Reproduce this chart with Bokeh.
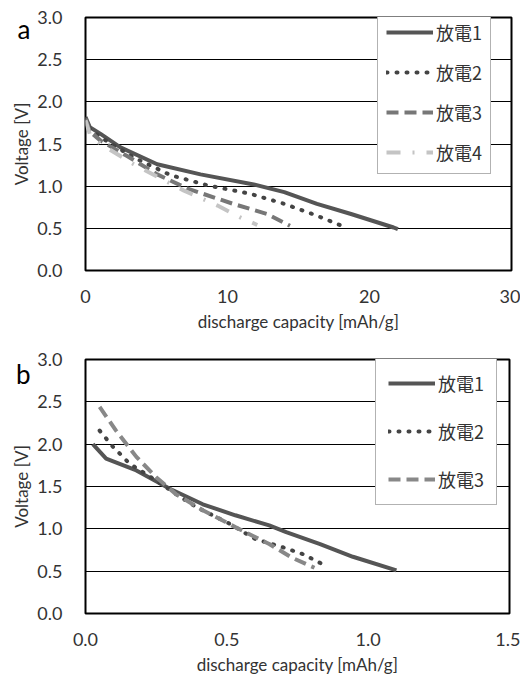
from bokeh.plotting import figure
from bokeh.layouts import column
from bokeh.models import (Legend, LegendItem, FixedTicker, Range1d, NumeralTickFormatter,
                          LinearAxis, CustomJSTickFormatter)
from bokeh.embed import file_html
from bokeh.resources import INLINE

# ---- panel a data ----
a_x1 = [0.0, 0.3, 1.06, 2.46, 5.05, 8.1, 11.85, 14.0, 16.3, 18.7, 21.7, 22.0]
a_y1 = [1.82, 1.70, 1.62, 1.46, 1.26, 1.14, 1.02, 0.93, 0.79, 0.67, 0.51, 0.49]
a_x2 = [0.0, 0.3, 1.06, 3.4, 6.0, 8.6, 11.6, 14.0, 16.3, 18.2]
a_y2 = [1.80, 1.68, 1.58, 1.34, 1.13, 1.01, 0.91, 0.79, 0.65, 0.52]
a_x3 = [0.0, 0.3, 1.06, 2.9, 5.05, 7.2, 10.4, 12.8, 14.4]
a_y3 = [1.80, 1.65, 1.54, 1.36, 1.14, 0.97, 0.79, 0.67, 0.53]
a_x4 = [0.0, 0.3, 1.06, 3.4, 6.9, 9.3, 10.9, 12.1]
a_y4 = [1.78, 1.62, 1.50, 1.26, 0.95, 0.77, 0.63, 0.54]

# ---- panel b data ----
b_x1 = [0.026, 0.073, 0.18, 0.30, 0.415, 0.53, 0.65, 0.71, 0.83, 0.946, 1.10]
b_y1 = [2.00, 1.83, 1.69, 1.47, 1.29, 1.16, 1.04, 0.96, 0.82, 0.67, 0.51]
b_x2 = [0.05, 0.097, 0.156, 0.25, 0.32, 0.39, 0.51, 0.60, 0.70, 0.77, 0.84]
b_y2 = [2.16, 1.97, 1.77, 1.57, 1.41, 1.26, 1.06, 0.88, 0.78, 0.70, 0.58]
b_x3 = [0.05, 0.108, 0.18, 0.25, 0.32, 0.415, 0.53, 0.65, 0.73, 0.81]
b_y3 = [2.44, 2.16, 1.85, 1.61, 1.41, 1.22, 1.02, 0.82, 0.66, 0.54]

labels_a = ["放電1", "放電2", "放電3", "放電4"]
labels_b = ["放電1", "放電2", "放電3"]
y_ticks = [0, 0.5, 1.0, 1.5, 2.0, 2.5, 3.0]
a_xticks = [0, 10, 20, 30]
b_xticks = [0.0, 0.5, 1.0, 1.5]
panel_tags = ["a", "b"]

TICK_FONT = "Lato"
CJK_FONT = "Noto Sans CJK JP"
TXT = "#333333"

styles_a = [
    dict(line_color="#555555", line_width=4),
    dict(line_color="#444444", line_width=4, line_dash="1 9", line_cap="round"),
    dict(line_color="#777777", line_width=4, line_dash="12 6"),
    dict(line_color="#c4c4c4", line_width=4, line_dash="14 12 2 12"),
]
styles_b = [
    dict(line_color="#555555", line_width=4),
    dict(line_color="#444444", line_width=4, line_dash="1 9", line_cap="round"),
    dict(line_color="#888888", line_width=4, line_dash="12 6"),
]


def make_panel(fw, fh, left, right, top, bottom, xmax, xticks, xfmt, xs, ys, labels,
               styles, leg_x, leg_top, leg_pad, leg_spacing, tag, tag_y):
    p = figure(frame_width=fw, frame_height=fh, output_backend="svg", toolbar_location=None,
               x_range=Range1d(0, xmax), y_range=Range1d(0, 3),
               min_border_left=left, min_border_right=right,
               min_border_top=top, min_border_bottom=bottom,
               background_fill_color="white", border_fill_color="white")
    p.outline_line_color = "black"
    p.outline_line_width = 2
    p.xgrid.visible = False
    p.ygrid.grid_line_color = "black"
    p.ygrid.grid_line_width = 1
    p.ygrid.ticker = FixedTicker(ticks=y_ticks)

    p.xaxis.ticker = FixedTicker(ticks=xticks)
    p.yaxis.ticker = FixedTicker(ticks=y_ticks)
    p.xaxis.formatter = NumeralTickFormatter(format=xfmt)
    p.yaxis.formatter = NumeralTickFormatter(format="0.0")
    for ax in (p.xaxis[0], p.yaxis[0]):
        ax.axis_line_color = None
        ax.major_tick_line_color = None
        ax.minor_tick_line_color = None
        ax.major_tick_out = 0
        ax.major_tick_in = 0
        ax.minor_tick_out = 0
        ax.minor_tick_in = 0
        ax.major_label_text_font = TICK_FONT
        ax.major_label_text_font_size = "18px"
        ax.major_label_text_color = TXT
        ax.axis_label_text_font = TICK_FONT
        ax.axis_label_text_font_size = "17px"
        ax.axis_label_text_font_style = "normal"
        ax.axis_label_text_color = TXT
    p.xaxis.axis_label = "discharge capacity [mAh/g]"
    p.yaxis.axis_label = "Voltage [V]"
    p.xaxis.major_label_standoff = 19
    p.xaxis.axis_label_standoff = 5
    p.yaxis.major_label_standoff = 23
    p.yaxis.axis_label_standoff = 2

    # panel tag ("a"/"b") drawn as the single tick label of an outer, bare axis
    tag_axis = LinearAxis(ticker=FixedTicker(ticks=[tag_y]),
                          formatter=CustomJSTickFormatter(code="return %r;" % tag),
                          axis_line_color=None, major_tick_line_color=None,
                          minor_tick_line_color=None, major_tick_out=0, major_tick_in=0,
                          minor_tick_out=0, minor_tick_in=0, major_label_standoff=-22,
                          major_label_text_font=TICK_FONT, major_label_text_font_size="26px",
                          major_label_text_color="black")
    p.add_layout(tag_axis, "left")

    items = []
    for x, y, lab, st in zip(xs, ys, labels, styles):
        r = p.line(x, y, **st)
        items.append(LegendItem(label=lab, renderers=[r]))

    n = len(labels)
    lh = 20
    leg_h = 2 * leg_pad + n * lh + (n - 1) * leg_spacing
    legend = Legend(items=items, location=(leg_x, fh - leg_top - leg_h),
                    glyph_width=47, glyph_height=lh, label_height=lh,
                    label_standoff=3, padding=leg_pad, spacing=leg_spacing, margin=0,
                    label_text_font=CJK_FONT, label_text_font_size="18px",
                    label_text_color=TXT,
                    border_line_color="#666666", border_line_width=1.2,
                    background_fill_color="white", background_fill_alpha=1.0)
    p.add_layout(legend, "center")
    return p


pa = make_panel(426, 253, 85, 9, 17, 68, 30, a_xticks, "0",
                [a_x1, a_x2, a_x3, a_x4], [a_y1, a_y2, a_y3, a_y4], labels_a, styles_a,
                292, 19, 8, 14, panel_tags[0], 2.86)
pb = make_panel(424, 254, 83, 13, 21, 64, 1.5, b_xticks, "0.0",
                [b_x1, b_x2, b_x3], [b_y1, b_y2, b_y3], labels_b, styles_b,
                290, 18, 12, 22, panel_tags[1], 2.83)

layout = column(pa, pb, spacing=0)
open("out.html", "w").write(file_html(layout, INLINE))
